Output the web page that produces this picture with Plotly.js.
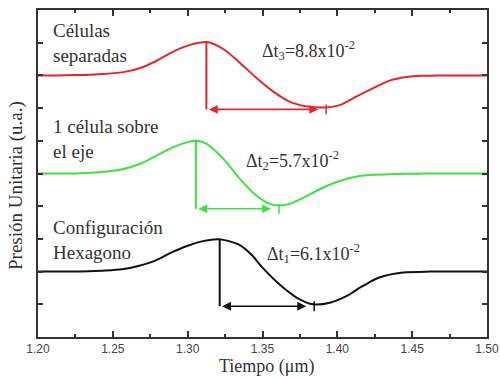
<!DOCTYPE html>
<html>
<head>
<meta charset="utf-8">
<script src="https://cdn.plot.ly/plotly-3.0.1.min.js"></script>
<style>html,body{margin:0;padding:0;background:#fff;}#chart{width:500px;height:379px;}</style>
</head>
<body>
<div id="chart"></div>
<script>
// Red: "Células separadas"
const redX = [1.200, 1.212, 1.224, 1.235, 1.246, 1.257, 1.268, 1.279, 1.290, 1.302, 1.313, 1.324, 1.335, 1.346, 1.357, 1.368, 1.380, 1.391, 1.402, 1.413, 1.424, 1.435, 1.446, 1.457, 1.468, 1.480, 1.490, 1.500];
const redY = [7.00, 7.00, 7.01, 7.02, 7.05, 7.10, 7.22, 7.44, 7.72, 7.94, 8.02, 7.80, 7.38, 6.92, 6.51, 6.20, 6.05, 6.02, 6.10, 6.36, 6.61, 6.84, 6.95, 6.99, 7.00, 7.00, 7.00, 7.00];
// Green: "1 célula sobre el eje"
const greenX = [1.200, 1.212, 1.224, 1.235, 1.246, 1.257, 1.268, 1.279, 1.290, 1.300, 1.306, 1.313, 1.324, 1.335, 1.346, 1.355, 1.361, 1.368, 1.380, 1.391, 1.402, 1.413, 1.424, 1.435, 1.446, 1.460, 1.480, 1.500];
const greenY = [4.00, 4.00, 4.00, 4.02, 4.06, 4.14, 4.29, 4.54, 4.80, 4.96, 5.00, 4.90, 4.44, 3.83, 3.32, 3.07, 3.02, 3.07, 3.32, 3.58, 3.78, 3.91, 3.96, 3.98, 3.99, 4.00, 4.00, 4.00];
// Black: "Configuración Hexagono"
const blackX = [1.200, 1.212, 1.223, 1.234, 1.245, 1.256, 1.267, 1.278, 1.289, 1.300, 1.311, 1.321, 1.334, 1.343, 1.350, 1.362, 1.373, 1.384, 1.395, 1.406, 1.417, 1.428, 1.444, 1.462, 1.480, 1.500];
const blackY = [1.00, 1.00, 1.00, 1.01, 1.03, 1.07, 1.17, 1.33, 1.58, 1.79, 1.94, 1.99, 1.83, 1.50, 1.12, 0.58, 0.20, 0.00, 0.05, 0.25, 0.56, 0.82, 0.97, 1.00, 1.00, 1.00];

// Delay markers: peak time, minimum time, peak level, arrow level
const seriesNames = ['Células separadas', '1 célula sobre el eje', 'Configuración Hexagono'];
const colors = ['#e5262b', '#3be43b', '#111111'];
const peakX = [1.3125, 1.3055, 1.3214];
const minX = [1.3925, 1.3610, 1.3845];
const peakY = [8.02, 5.00, 1.99];
const arrowY = [5.96, 2.92, -0.06];
const deltaLabels = ['Δt<sub>3</sub>=8.8x10<sup>-2</sup>', 'Δt<sub>2</sub>=5.7x10<sup>-2</sup>', 'Δt<sub>1</sub>=6.1x10<sup>-2</sup>'];
const deltaPosX = [1.3480, 1.3375, 1.3515];
const deltaPosY = [7.76, 4.40, 1.54];
const nameLabels = ['Células<br>separadas', '1 célula sobre<br>el eje', 'Configuración<br>Hexagono'];
const namePosY = [8.00, 5.04, 1.97];

const xTickVals = [1.20, 1.25, 1.30, 1.35, 1.40, 1.45, 1.50];
const xTickText = ['1.20', '1.25', '1.30', '1.35', '1.40', '1.45', '1.50'];
const xTitle = 'Tiempo (μm)';
const yTitle = 'Presión Unitaria (u.a.)';

const curves = [[redX, redY], [greenX, greenY], [blackX, blackY]];
const traces = [];
curves.forEach((c, i) => {
  traces.push({x: c[0], y: c[1], mode: 'lines', name: seriesNames[i],
    line: {color: colors[i], width: 2, shape: 'spline', smoothing: 0.8}, hoverinfo: 'skip'});
  traces.push({x: [peakX[i], peakX[i]], y: [peakY[i], arrowY[i]], mode: 'lines',
    line: {color: colors[i], width: 2}, hoverinfo: 'skip'});
  traces.push({x: [minX[i]], y: [arrowY[i]], mode: 'markers',
    marker: {symbol: 'line-ns', size: 7, line: {color: colors[i], width: 1.5}}, hoverinfo: 'skip'});
});

const annotations = [];
for (let i = 0; i < 3; i++) {
  annotations.push({x: minX[i], y: arrowY[i], ax: peakX[i], ay: arrowY[i], xref: 'x', yref: 'y',
    axref: 'x', ayref: 'y', text: '', showarrow: true, arrowside: 'end+start', arrowhead: 2, startarrowhead: 2,
    arrowsize: 1.1, startarrowsize: 1.1, arrowwidth: 1.6, arrowcolor: colors[i], standoff: 8, startstandoff: 1});
  annotations.push({x: deltaPosX[i], y: deltaPosY[i], xref: 'x', yref: 'y', text: deltaLabels[i],
    showarrow: false, xanchor: 'left', yanchor: 'middle', font: {family: 'Liberation Serif', size: 18, color: '#333'}});
  annotations.push({x: 1.2085, y: namePosY[i], xref: 'x', yref: 'y', text: nameLabels[i], align: 'left',
    showarrow: false, xanchor: 'left', yanchor: 'middle', font: {family: 'Liberation Serif', size: 19, color: '#333'}});
}
annotations.push({x: 267, y: 0, xref: 'paper', yref: 'paper', text: xTitle, showarrow: false,
  xanchor: 'center', yanchor: 'bottom', font: {family: 'Liberation Serif', size: 18, color: '#333'}});
annotations.push({x: 16, y: 379 - 186, xref: 'paper', yref: 'paper', text: yTitle, showarrow: false, textangle: -90,
  xanchor: 'center', yanchor: 'middle', font: {family: 'Liberation Serif', size: 19, color: '#333'}});

// convert pixel placements of the axis titles to paper fractions
const plotL = 38, plotR = 487, plotT = 10, plotB = 337;
annotations.slice(-2).forEach(a => {
  a.x = (a.x - plotL) / (plotR - plotL);
  a.y = (a.y - (379 - plotB)) / (plotB - plotT);
});

const layout = {
  width: 500, height: 379,
  margin: {l: plotL, r: 500 - plotR, t: plotT, b: 379 - plotB},
  paper_bgcolor: '#fff', plot_bgcolor: '#fff',
  showlegend: false,
  xaxis: {
    range: [1.2, 1.5], tickvals: xTickVals, ticktext: xTickText,
    ticks: 'inside', ticklen: 6, tickwidth: 1.5, tickcolor: '#333',
    minor: {dtick: 0.025, ticks: 'inside', ticklen: 3, tickwidth: 1.5, tickcolor: '#333', showgrid: false},
    showline: true, linewidth: 2, linecolor: '#333', mirror: 'ticks',
    showgrid: false, zeroline: false,
    tickfont: {family: 'Liberation Sans', size: 12, color: '#444'}
  },
  yaxis: {
    range: [-1, 9], dtick: 1, tick0: 0, showticklabels: false,
    ticks: 'inside', ticklen: 5, tickwidth: 1.5, tickcolor: '#333',
    showline: true, linewidth: 2, linecolor: '#333', mirror: 'ticks',
    showgrid: false, zeroline: false
  },
  annotations: annotations
};

Plotly.newPlot('chart', traces, layout, {displayModeBar: false});
</script>
</body>
</html>
